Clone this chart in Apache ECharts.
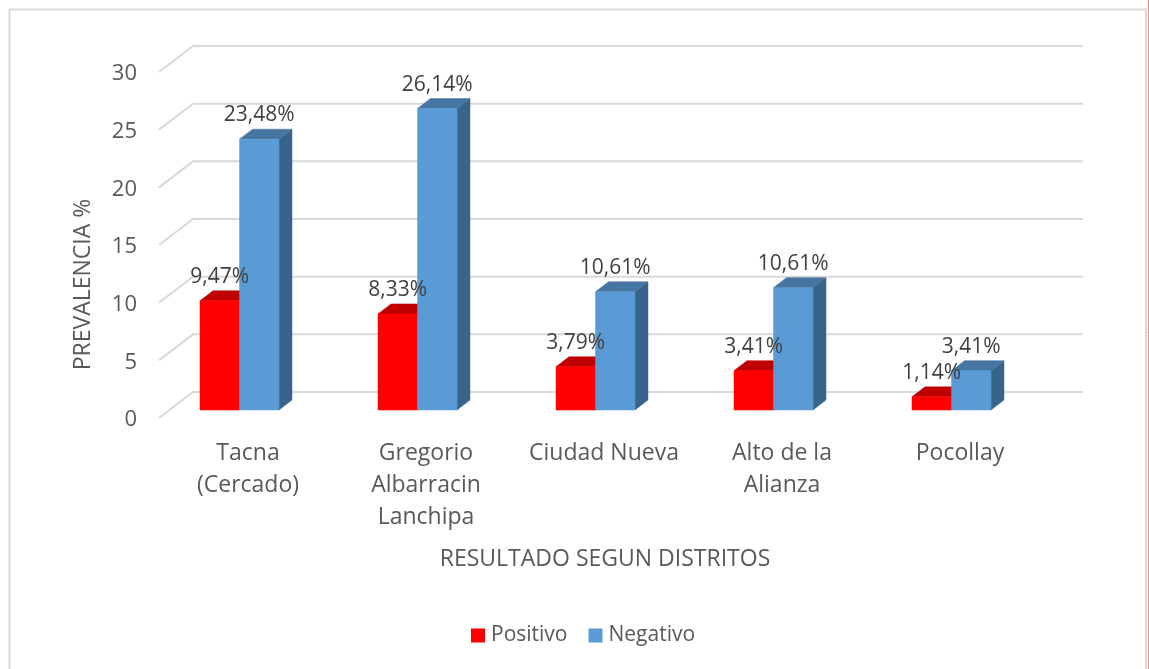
<!DOCTYPE html>
<html><head><meta charset="utf-8">
<script src="https://cdn.jsdelivr.net/npm/echarts@6/dist/echarts.min.js"></script>
<style>html,body{margin:0;padding:0;background:#fff}#c{width:1149px;height:669px}</style>
</head><body><div id="c"></div>
<script>
const categories = ['Tacna\n(Cercado)', 'Gregorio\nAlbarracin\nLanchipa', 'Ciudad Nueva', 'Alto de la\nAlianza', 'Pocollay'];
const positivo = [9.47, 8.33, 3.75, 3.41, 1.14];
const negativo = [23.48, 26.14, 10.25, 10.61, 3.41];
const positivoLabels = ['9,47%', '8,33%', '3,79%', '3,41%', '1,14%'];
const negativoLabels = ['23,48%', '26,14%', '10,61%', '10,61%', '3,41%'];
const yTicks = [0, 5, 10, 15, 20, 25, 30];

const FONT = '"Open Sans", sans-serif';
const wall = { dx: 34, dy: -26 };
const bar = { width: 39.5, shiftX: -8.5, shiftY: -8, dx: 13, dy: -10 };

function renderWall(params, api) {
  const band = api.size([1, 0])[0];
  const p = api.coord([0, api.value(1)]);
  const x0 = p[0] - band / 2, y0 = p[1];
  return {
    type: 'polyline',
    shape: { points: [[x0, y0], [x0 + wall.dx, y0 + wall.dy], [x0 + band * categories.length + wall.dx, y0 + wall.dy]] },
    style: { stroke: '#d9d9d9', lineWidth: 2, fill: null }
  };
}
function bar3d(side, front, top, flank) {
  return function (params, api) {
    const idx = api.value(0);
    const t = api.coord([idx, api.value(1)]);
    const b = api.coord([idx, 0]);
    const l = t[0] + bar.shiftX + (side < 0 ? -bar.width : 0);
    const r = l + bar.width;
    const yt = t[1] + bar.shiftY, yb = b[1] + bar.shiftY;
    const poly = (pts, c) => ({ type: 'polygon', shape: { points: pts }, style: { fill: c, stroke: c, lineWidth: 0.5 } });
    return {
      type: 'group',
      children: [
        poly([[r, yt], [r + bar.dx, yt + bar.dy], [r + bar.dx, yb + bar.dy], [r, yb]], flank),
        poly([[l, yt], [l + bar.dx, yt + bar.dy], [r + bar.dx, yt + bar.dy], [r, yt]], top),
        poly([[l, yt], [r, yt], [r, yb], [l, yb]], front)
      ]
    };
  };
}
function renderLabel(params, api) {
  const idx = api.value(0);
  const side = api.value(2);
  const t = api.coord([idx, api.value(1)]);
  return {
    type: 'text',
    style: {
      text: api.value(3),
      x: t[0] + bar.shiftX + side * bar.width / 2,
      y: t[1] + bar.shiftY - 24,
      align: 'center', verticalAlign: 'middle',
      fill: '#404040', font: '21px ' + FONT
    }
  };
}
const labelData = [];
categories.forEach((c, i) => {
  labelData.push([i, positivo[i], -1, positivoLabels[i]]);
  labelData.push([i, negativo[i], 1, negativoLabels[i]]);
});

const chart = echarts.init(document.getElementById('c'), null, { renderer: 'canvas' });
chart.setOption({
  animation: false,
  backgroundColor: '#fff',
  textStyle: { fontFamily: FONT },
  graphic: [
    { type: 'polyline', silent: true, z: 0, shape: { points: [[9.5, 669], [9.5, 9.5], [1146, 9.5], [1146, 669]] }, style: { stroke: '#d9d9d9', lineWidth: 2, fill: null } },
    { type: 'line', silent: true, z: 0, shape: { x1: 1148.5, y1: 0, x2: 1148.5, y2: 669 }, style: { stroke: '#e88a8a', lineWidth: 1 } }
  ],
  grid: { left: 159, top: 72, width: 890, height: 346 },
  legend: {
    data: ['Positivo', 'Negativo'],
    left: 471, top: 625, padding: 0,
    icon: 'rect', itemWidth: 14, itemHeight: 14, itemGap: 21,
    selectedMode: false,
    textStyle: { color: '#595959', fontSize: 21, fontFamily: FONT, padding: [0, 0, 0, 1] }
  },
  xAxis: {
    type: 'category',
    data: categories,
    axisLine: { show: false }, axisTick: { show: false }, splitLine: { show: false },
    axisLabel: { color: '#595959', fontSize: 23, lineHeight: 32, margin: 19, interval: 0, fontFamily: FONT },
    name: 'RESULTADO SEGUN DISTRITOS',
    nameLocation: 'middle', nameGap: 130,
    nameTextStyle: { color: '#595959', fontSize: 23, fontFamily: FONT, padding: [0, 0, 0, 2] }
  },
  yAxis: {
    type: 'value', min: 0, max: 30, interval: 5,
    axisLine: { show: false }, axisTick: { show: false }, splitLine: { show: false },
    axisLabel: { color: '#595959', fontSize: 22, margin: 22, fontFamily: FONT, verticalAlign: 'top', lineHeight: 4 },
    name: 'PREVALENCIA %',
    nameLocation: 'middle', nameGap: 64, nameRotate: 90,
    nameTextStyle: { color: '#595959', fontSize: 23, fontFamily: FONT, padding: [0, 79, 0, 0] }
  },
  series: [
    { type: 'custom', name: 'walls', silent: true, z: 1, clip: false, renderItem: renderWall, data: yTicks.map(v => [0, v]), encode: { x: 0, y: 1 } },
    { type: 'custom', name: 'Positivo', z: 2, clip: false, itemStyle: { color: '#ff0000' }, renderItem: bar3d(-1, '#ff0000', '#c00000', '#990000'), data: positivo.map((v, i) => [i, v]), encode: { x: 0, y: 1 } },
    { type: 'custom', name: 'Negativo', z: 3, clip: false, itemStyle: { color: '#5b9bd5' }, renderItem: bar3d(1, '#5b9bd5', '#4675a1', '#38648c'), data: negativo.map((v, i) => [i, v]), encode: { x: 0, y: 1 } },
    { type: 'custom', name: 'labels', silent: true, z: 4, clip: false, renderItem: renderLabel, data: labelData, encode: { x: 0, y: 1 } }
  ]
});
</script></body></html>
